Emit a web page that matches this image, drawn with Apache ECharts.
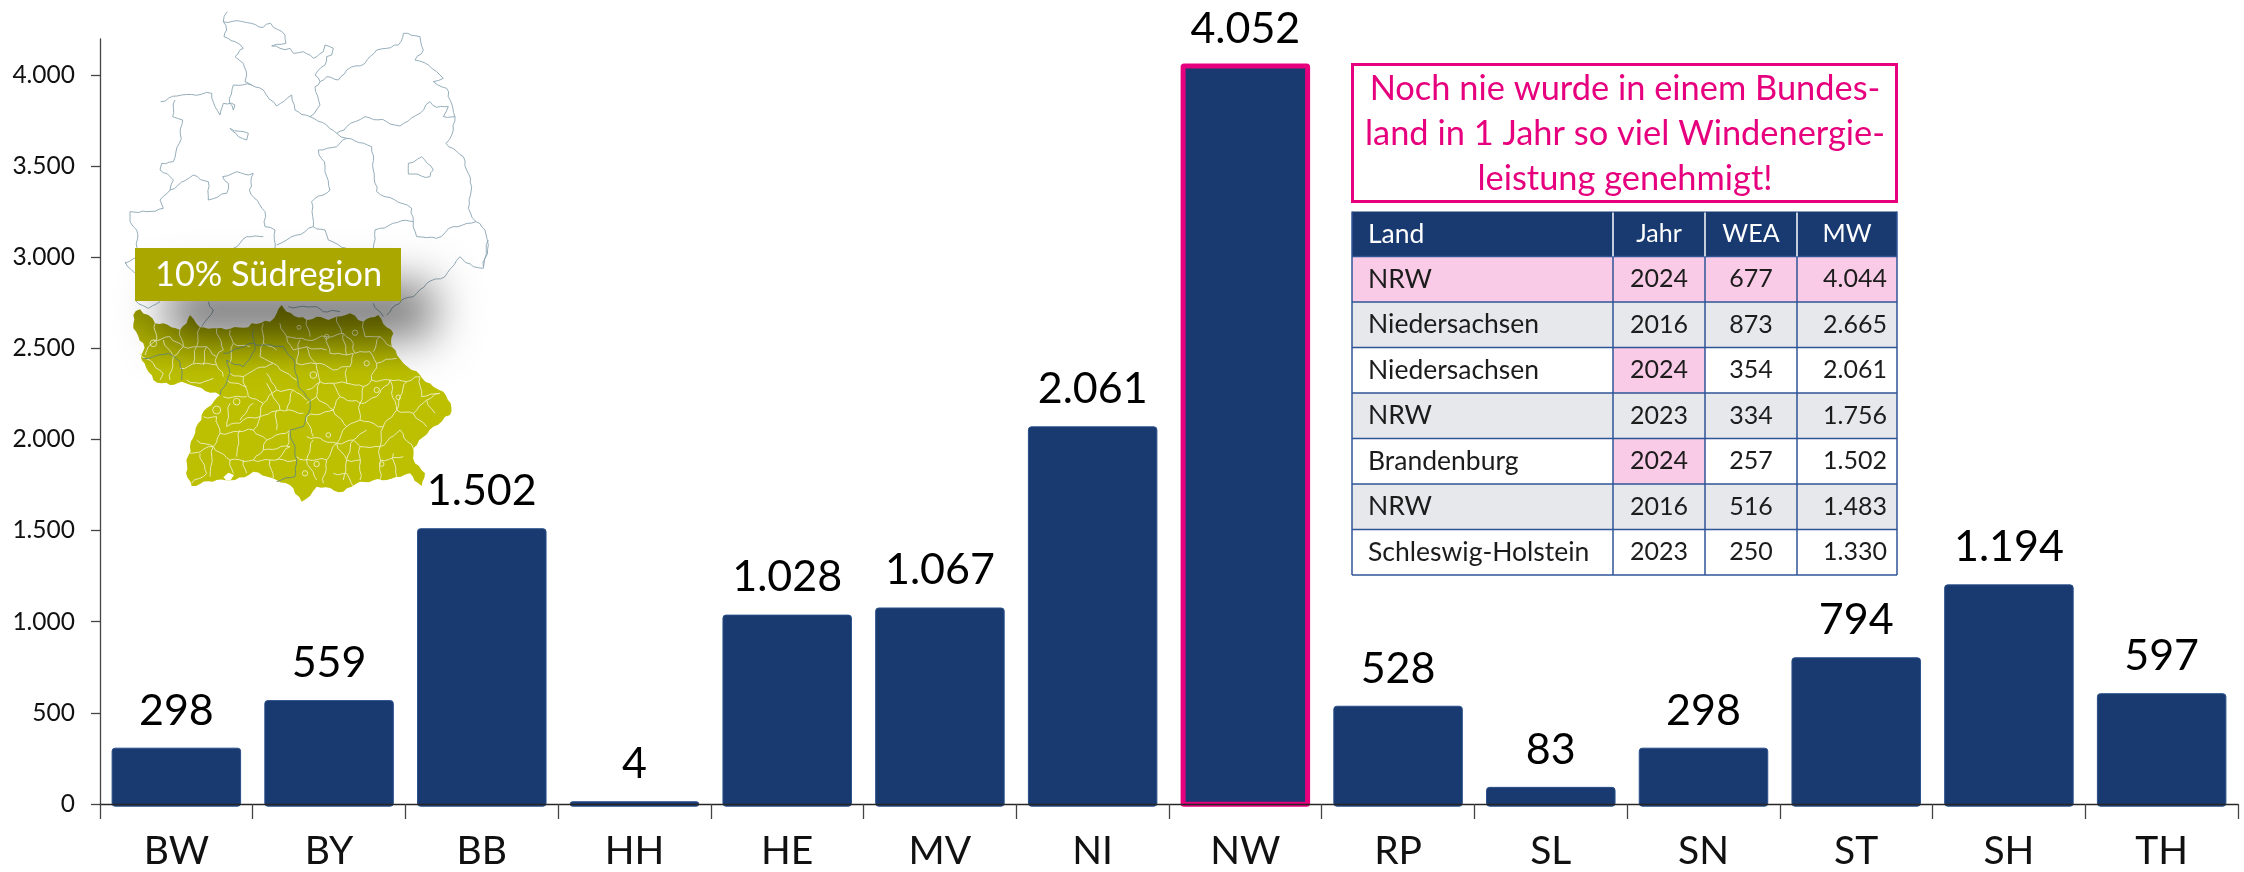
<!DOCTYPE html>
<html><head><meta charset="utf-8">
<style>html,body{margin:0;padding:0;background:#fff}#c{width:2244px;height:872px}</style>
<script src="https://cdn.jsdelivr.net/npm/echarts@6/dist/echarts.min.js"></script>
</head><body><div id="c"></div>
<script>
const categories = ['BW','BY','BB','HH','HE','MV','NI','NW','RP','SL','SN','ST','SH','TH'];
const values = [298,559,1502,4,1028,1067,2061,4052,528,83,298,794,1194,597];
const highlighted = 'NW';
const yTicks = [0,500,1000,1500,2000,2500,3000,3500,4000];
const tableHeader = ['Land','Jahr','WEA','MW'];
const tableLand = ['NRW','Niedersachsen','Niedersachsen','NRW','Brandenburg','NRW','Schleswig-Holstein'];
const tableJahr = ['2024','2016','2024','2023','2024','2016','2023'];
const tableWEA = ['677','873','354','334','257','516','250'];
const tableMW = ['4.044','2.665','2.061','1.756','1.502','1.483','1.330'];
const calloutLines = ['Noch nie wurde in einem Bundes-','land in 1 Jahr so viel Windenergie-','leistung genehmigt!'];
const bannerText = '10% Südregion';

const FONT = 'Lato';
const deFmt = v => String(v).replace(/\B(?=(\d{3})+$)/g,'.');
const g = [];

/* ---- decorative map; wiggle only roughens the drawn borders ---- */
function wiggle(p,amp){
  const out=[p[0]];let k=0;
  for(let s=0;s<p.length-1;s++){
    const a=p[s],b=p[s+1],dx=b[0]-a[0],dy=b[1]-a[1],L=Math.hypot(dx,dy)||1,n=Math.max(1,Math.round(L/14));
    for(let i=1;i<=n;i++){k++;
      const t=i/n,o=i===n?0:amp*(Math.sin(k*1.7)+0.7*Math.sin(k*0.83+s));
      out.push([a[0]+dx*t-dy/L*o,a[1]+dy*t+dx/L*o]);
    }
  }
  return out;
}
const mapN = p => p.map(q=>[120+q[0]/3, q[1]/3]);
const mapS = p => p.map(q=>[120+q[0]/3, 240+q[1]/3]);
const northLines = [
 [[322,35],[310,65],[320,90],[312,110],[345,125],[370,145],[345,170],[370,190],[380,225],[375,245],[395,255],[430,270],[470,318],[515,285],[525,330],[570,350],[620,375],[650,400],[680,380],[735,350],[800,365],[840,378],[900,340],[930,305],[950,322],[985,320],[970,350],[1005,350]],
 [[310,65],[350,62],[395,70],[430,82],[452,70],[495,105],[498,130],[455,138],[480,145],[510,145],[520,160],[550,155],[580,175],[610,155],[615,135],[640,145],[635,165],[620,170],[615,195],[585,225],[600,245],[620,230],[655,240],[680,210],[735,190],[770,150],[800,145],[835,135],[850,100],[900,110],[910,150],[885,180],[925,195],[950,215],[970,235],[940,245],[980,265],[990,300],[1005,350],[1000,390],[978,430],[1030,470],[1040,510],[1055,560],[1045,625],[1068,665],[1095,690],[1105,735],[1090,800]],
 [[122,305],[145,295],[185,285],[275,280],[285,320],[300,345],[310,310],[345,315],[340,330],[328,295],[340,255],[395,255]],
 [[165,300],[158,350],[188,360],[178,430],[160,485],[125,490],[120,510],[160,540],[150,570],[120,600],[130,625],[80,635],[30,635],[30,665],[50,690],[55,770],[15,790]],
 [[150,570],[220,525],[265,545],[265,600],[320,580],[325,550],[308,530],[350,515],[385,525],[400,520],[388,570],[435,635],[435,680],[465,690],[465,745]],
 [[680,415],[650,440],[595,450],[615,500],[630,570],[575,605],[580,680],[500,720],[470,735]],
 [[580,680],[615,690],[625,720],[680,745]],
 [[650,400],[680,415],[755,440],[760,510],[770,575],[875,625],[880,665],[845,662],[765,690],[760,745]],
 [[880,665],[890,710],[950,715],[1000,680],[1068,665]],
 [[865,490],[905,470],[940,510],[930,530],[865,522],[865,490]],
 [[330,385],[385,400],[380,420],[355,410],[330,385]],
 [[570,350],[600,315],[585,260],[600,245]],
 [[340,745],[380,710],[430,710]]
];
const southGreyLines = [
 [[1105,0],[1090,85],[1060,80],[1020,50],[975,110],[920,130],[880,170],[845,180],[800,225]],
 [[15,65],[45,100]],[[45,180],[85,205],[120,185]],
 [[265,185],[280,210],[245,260]],
 [[505,200],[590,200],[610,215],[660,215]],[[760,190],[790,230]]
];
const southRegion = [[60,208],[85,225],[105,250],[130,250],[180,270],[210,225],[240,262],[290,265],[385,262],[395,250],[450,245],[485,195],[500,215],[560,240],[590,230],[625,240],[650,230],[690,220],[730,245],[775,225],[800,262],[820,280],[815,320],[850,370],[900,405],[940,440],[970,455],[992,490],[990,525],[940,560],[880,625],[885,670],[915,700],[905,738],[870,700],[800,720],[720,725],[670,755],[590,740],[570,768],[545,785],[520,745],[470,720],[400,695],[345,720],[290,720],[215,738],[198,700],[210,620],[245,525],[300,465],[230,440],[185,425],[150,435],[100,420],[65,360],[70,310],[40,265],[40,225]];
const lake = [[310,712],[325,698],[342,705],[332,720],[318,720]];
const districts = [
 [[105,250],[110,300],[85,320],[75,345]],[[180,270],[190,320],[160,350]],[[240,262],[230,320],[260,320],[290,350],[310,330]],[[290,265],[310,330]],[[190,320],[230,320]],[[100,300],[150,290]],[[100,370],[130,400],[120,420]],[[180,385],[230,370],[290,375],[310,410]],[[200,420],[240,430],[280,415]],
 [[480,250],[500,290],[560,300],[620,290],[670,280],[700,310]],[[560,240],[570,290]],[[650,230],[665,280]],[[730,245],[735,290],[780,290],[815,320]],[[700,310],[705,340],[750,335],[770,370],[830,355]],[[620,290],[630,340],[680,345],[700,340]],[[530,370],[600,370],[640,390],[690,380],[700,340]],[[680,385],[680,430],[730,440],[755,420],[770,370]],[[755,420],[810,420],[860,425],[900,410]],[[600,425],[640,430],[660,470],[720,490],[730,440]],[[560,450],[600,425],[590,385]],[[720,490],[720,540],[790,560],[830,510],[810,420]],[[830,510],[880,520],[920,480],[960,460]],[[880,520],[920,560]],[[660,470],[640,510],[560,530]],[[640,510],[680,560],[720,540]],[[680,560],[650,610],[560,590]],[[650,610],[700,600],[740,570]],[[790,560],[780,620],[720,620],[700,600]],[[780,620],[840,570],[880,625]],[[720,620],[720,720]],[[780,620],[780,720]],[[650,610],[620,660],[610,730]],[[620,660],[550,660],[530,650]],[[680,660],[720,660]],[[820,640],[830,710]],[[640,700],[680,700],[700,740]],
 [[330,400],[370,410],[410,385],[460,370],[530,420]],[[370,410],[385,470],[430,490],[470,450],[440,400]],[[470,450],[520,450],[560,480]],[[430,490],[420,530],[480,510],[550,520]],[[310,470],[380,470]],[[330,490],[320,560],[370,540],[420,530]],[[400,570],[440,600],[510,570]],[[300,580],[400,570],[420,530]],[[290,530],[300,580],[280,620],[210,640]],[[280,620],[330,660],[400,660],[430,630],[510,620]],[[400,660],[450,660],[530,660]],[[240,640],[260,700],[215,730]],[[330,660],[340,700]],[[440,600],[430,630]],[[450,660],[460,715]],[[430,250],[430,310],[470,330]],[[330,270],[340,310]],[[540,300],[530,370]],
 [[150,290],[190,320]],[[60,340],[100,370]],[[130,300],[160,350],[150,420]],[[230,320],[220,370]],[[260,320],[250,375]],[[290,350],[290,375]],[[430,310],[420,350],[460,370]],[[340,310],[390,320]],[[340,310],[330,370]],[[500,290],[520,330],[560,320],[590,385]],[[560,320],[620,330]],[[670,280],[680,345]],[[780,290],[760,335]],[[860,425],[840,470],[830,510]],[[900,410],[905,470],[960,460]],[[920,480],[945,520]],[[600,425],[590,470],[560,490]],[[590,470],[640,510]],[[720,490],[770,470],[810,420]],[[680,430],[640,430]],[[560,530],[580,590]],[[700,600],[680,660]],[[650,610],[680,660],[670,720]],[[580,600],[560,660]],[[560,660],[590,720]],[[780,660],[850,650]],[[470,510],[470,570]],[[360,570],[350,650]],[[510,620],[470,660]],[[250,530],[290,530]],[[320,420],[380,440]],[[480,510],[440,430]],[[520,450],[500,510]],[[400,490],[360,540]],[[230,600],[280,620]],[[280,620],[270,710]],[[370,660],[380,700]],[[500,620],[510,570]]
];
const rings = [[580,405,10],[740,370,8],[770,450,8],[835,472,7],[350,485,10],[290,510,12],[100,310,10],[620,290,7],[537,262,6],[705,278,8],[590,672,8],[785,672,7],[555,700,8],[625,585,7]];
const stateLines = [
 [[70,355],[145,340],[180,365],[185,420]],
 [[310,340],[400,310],[435,315],[490,320],[525,370],[535,440],[570,480],[565,520],[550,560],[510,570],[530,660],[525,710],[470,725]],
 [[400,270],[405,330],[370,380],[320,360],[330,400],[300,465]]
];
const line = (pts,stroke,w,z)=>g.push({type:'polyline',silent:true,z,shape:{points:pts},style:{stroke,lineWidth:w,fill:null}});
northLines.forEach(p=>line(mapN(wiggle(p,2.5)),'#8aa5b2',0.9,10));
southGreyLines.forEach(p=>line(mapS(wiggle(p,2.5)),'#8aa5b2',0.9,10));
g.push({type:'polygon',silent:true,z:11,shape:{points:mapS(wiggle(southRegion.concat([southRegion[0]]),3))},
  style:{fill:new echarts.graphic.LinearGradient(0,0,0,1,[{offset:0,color:'#8f9000'},{offset:0.18,color:'#a8ab00'},{offset:0.34,color:'#bcc000'},{offset:1,color:'#bcc000'}])}});
g.push({type:'polygon',silent:true,z:12,shape:{points:mapS(lake)},style:{fill:'#fff'}});
districts.forEach(p=>line(mapS(wiggle(p,3)),'#e9ecb0',1,12));
rings.forEach(r=>{const c=mapS([r])[0];g.push({type:'circle',silent:true,z:12,shape:{cx:c[0],cy:c[1],r:r[2]/3},style:{fill:null,stroke:'#e9ecb0',lineWidth:1}});});
stateLines.forEach(p=>line(mapS(wiggle(p,2.5)),'#6f8f70',1,13));
/* banner with its soft shadow */
g.push({type:'rect',silent:true,z:14,shape:{x:135,y:248,width:266,height:53},
  style:{fill:'#aaa800',shadowBlur:45,shadowOffsetX:32,shadowOffsetY:36,shadowColor:'rgba(0,0,0,0.55)'}});
g.push({type:'text',silent:true,z:15,style:{text:bannerText,x:155,y:275,font:'34.3px '+FONT,fill:'#fff',textAlign:'left',textVerticalAlign:'middle'}});

/* ---- callout ---- */
g.push({type:'rect',silent:true,z:10,shape:{x:1352.5,y:64.5,width:544,height:137},style:{fill:'#fff',stroke:'#e6007e',lineWidth:3}});
[89,134,179].forEach((y,i)=>g.push({type:'text',silent:true,z:11,style:{text:calloutLines[i],x:1625,y,font:'34.4px '+FONT,fill:'#e6007e',textAlign:'center',textVerticalAlign:'middle'}}));

/* ---- table ---- */
const colX = [1352,1613,1705,1797,1897];
const rowY = [211.5,256.5,302,347.5,393,438.5,484,529.5,575];
const PINK='#f9cbe6', GREY='#e7e8ec';
const rowFill = [PINK,GREY,'#fff',GREY,'#fff',GREY,'#fff'];
const cellPink = [[0,1],[0,2],[0,3],[2,1],[4,1]];
const rect=(x,y,w,h,fill)=>g.push({type:'rect',silent:true,z:10,shape:{x,y,width:w,height:h},style:{fill}});
const txt=(t,x,y,al,fill,size)=>g.push({type:'text',silent:true,z:12,style:{text:t,x,y,font:(size||25.5)+'px '+FONT,fill,textAlign:al,textVerticalAlign:'middle'}});
rect(colX[0],rowY[0],colX[4]-colX[0],rowY[1]-rowY[0],'#183a70');
rowFill.forEach((f,r)=>rect(colX[0],rowY[r+1],colX[4]-colX[0],rowY[r+2]-rowY[r+1],f));
cellPink.forEach(c=>rect(colX[c[1]],rowY[c[0]+1],colX[c[1]+1]-colX[c[1]],rowY[c[0]+2]-rowY[c[0]+1],PINK));
const seg=(x1,y1,x2,y2,stroke,w)=>g.push({type:'line',silent:true,z:11,shape:{x1,y1,x2,y2},style:{stroke,lineWidth:w}});
rowY.slice(1).forEach(y=>seg(colX[0],y,colX[4],y,'#2f5597',1.5));
colX.forEach((x,i)=>{ if(i>0&&i<4) seg(x,rowY[0]+1,x,rowY[1],'#fff',1.5); seg(x,(i>0&&i<4)?rowY[1]:rowY[0],x,rowY[8],'#2f5597',1.5); });
const hy=(rowY[0]+rowY[1])/2;
txt(tableHeader[0],1368,hy,'left','#fff',26.5);txt(tableHeader[1],1659,hy,'center','#fff',25);txt(tableHeader[2],1751,hy,'center','#fff',25);txt(tableHeader[3],1847,hy,'center','#fff',25);
tableLand.forEach((l,r)=>{const y=(rowY[r+1]+rowY[r+2])/2;
  txt(l,1368,y,'left','#1c1c1c',26.5);txt(tableJahr[r],1659,y,'center','#1c1c1c',25);txt(tableWEA[r],1751,y,'center','#1c1c1c',25);txt(tableMW[r],1887,y,'right','#1c1c1c',25);});

/* bars are drawn through the axes' own scales; their outline sits outside the value, as in the picture */
function renderBar(params,api){
  const i=api.value(0), v=api.value(1);
  const top=api.coord([i,v]), base=api.coord([i,0]), w=api.size([1,0])[0]*0.848;
  const hot=categories[i]===highlighted, inset=hot?2.5:0.5;
  return {type:'rect',
    shape:{x:top[0]-w/2+inset,y:top[1]-2+inset,width:w-2*inset,height:base[1]-top[1]+4.7-2*inset,r:hot?1:3},
    style:{fill:'#183a70',stroke:hot?'#e6007e':'#2a4f8a',lineWidth:hot?5:1},
    textContent:{type:'text',style:{text:deFmt(v),font:'43px '+FONT,fill:'#000'}},
    textConfig:{position:'top',distance:hot?13:15.5}};
}

const chart = echarts.init(document.getElementById('c'),null,{renderer:'canvas'});
chart.setOption({
  animation:false,
  backgroundColor:'#fff',
  grid:{left:100,right:6,top:39,bottom:68,containLabel:false},
  xAxis:{type:'category',data:categories,z:5,boundaryGap:true,
    axisLine:{show:true,lineStyle:{color:'#262626',width:1.3}},
    axisTick:{show:true,alignWithLabel:false,interval:0,length:15,lineStyle:{color:'#444',width:1.3}},
    axisLabel:{fontFamily:FONT,fontSize:39,color:'#111',margin:28,interval:0}},
  yAxis:{type:'value',min:0,max:4197,interval:500,splitLine:{show:false},z:5,
    axisLine:{show:true,lineStyle:{color:'#444',width:1.3}},
    axisTick:{show:true,length:9,customValues:yTicks,lineStyle:{color:'#444',width:1.3}},
    axisLabel:{fontFamily:FONT,fontSize:24.5,color:'#111',margin:25,customValues:yTicks,formatter:v=>deFmt(v)}},
  series:[{type:'custom',renderItem:renderBar,encode:{x:0,y:1},silent:true,clip:false,
    data:values.map((v,i)=>[categories[i],v])}],
  graphic:{elements:g}
});
</script></body></html>
